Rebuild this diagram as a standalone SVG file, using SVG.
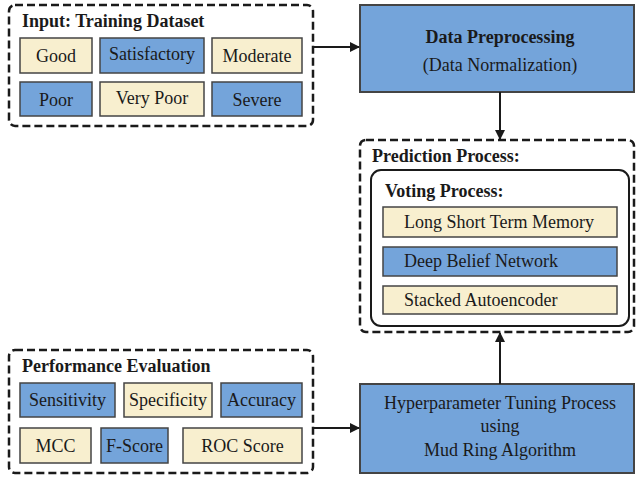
<svg xmlns="http://www.w3.org/2000/svg" width="637" height="478" viewBox="0 0 637 478" font-family="'Liberation Serif', 'Times New Roman', Times, serif">
<defs>
<style>
text{fill:#1a1a1a}
.t{font-size:18px;font-weight:bold}
.l{font-size:18px}
.c{text-anchor:middle}
.dash{fill:#fff;stroke:#1a1a1a;stroke-width:2.5;stroke-dasharray:8,4}
.b{fill:#74A4DA;stroke:#444;stroke-width:1.5}
.y{fill:#F8EFCF;stroke:#444;stroke-width:1.5}
.big{fill:#74A4DA;stroke:#444;stroke-width:2}
.conn{stroke:#1a1a1a;stroke-width:2;fill:none}
</style>
<marker id="ah" viewBox="0 0 10 10" refX="9" refY="5" markerWidth="5" markerHeight="5" orient="auto-start-reverse">
<path d="M0,0L10,5L0,10z" fill="#1a1a1a"/>
</marker>
</defs>
<g id="input">
<rect class="dash" x="9" y="5" width="304" height="121" rx="6"/>
<text class="t" x="22" y="27">Input: Training Dataset</text>
<rect class="y" x="20" y="38" width="72" height="35"/><text class="l c" x="56" y="62">Good</text>
<rect class="b" x="100" y="38" width="104" height="35"/><text class="l c" x="152" y="60">Satisfactory</text>
<rect class="y" x="212" y="38" width="90" height="35"/><text class="l c" x="257" y="62">Moderate</text>
<rect class="b" x="20" y="82" width="72" height="34"/><text class="l c" x="56" y="106">Poor</text>
<rect class="y" x="100" y="82" width="104" height="34"/><text class="l c" x="152" y="104">Very Poor</text>
<rect class="b" x="212" y="82" width="90" height="34"/><text class="l c" x="257" y="106">Severe</text>
</g>
<g id="preprocessing">
<rect class="big" x="360" y="5" width="274" height="87"/>
<text class="t c" x="500" y="43">Data Preprocessing</text>
<text class="l c" x="500" y="71">(Data Normalization)</text>
</g>
<g id="prediction">
<rect class="dash" x="360" y="140" width="274" height="192" rx="6"/>
<text class="t" x="372" y="162">Prediction Process:</text>
<rect x="371" y="170" width="258" height="156" rx="10" fill="#fff" stroke="#1a1a1a" stroke-width="2"/>
<text class="t" x="385" y="197">Voting Process:</text>
<rect class="y" x="383" y="207" width="234" height="30"/><text class="l" x="404" y="228">Long Short Term Memory</text>
<rect class="b" x="383" y="247" width="234" height="29"/><text class="l" x="404" y="267">Deep Belief Network</text>
<rect class="y" x="383" y="286" width="234" height="28"/><text class="l" x="404" y="306">Stacked Autoencoder</text>
</g>
<g id="performance">
<rect class="dash" x="9" y="350" width="304" height="123" rx="6"/>
<text class="t" x="22" y="372">Performance Evaluation</text>
<rect class="b" x="20" y="383" width="95" height="34"/><text class="l c" x="67.5" y="406">Sensitivity</text>
<rect class="y" x="124" y="383" width="88" height="34"/><text class="l c" x="168" y="406">Specificity</text>
<rect class="b" x="221" y="383" width="81" height="34"/><text class="l c" x="261.5" y="406">Accuracy</text>
<rect class="y" x="20" y="428" width="71" height="35"/><text class="l c" x="55.5" y="452">MCC</text>
<rect class="b" x="101" y="428" width="67" height="35"/><text class="l c" x="134.5" y="452">F-Score</text>
<rect class="y" x="183" y="428" width="119" height="35"/><text class="l c" x="242.5" y="452">ROC Score</text>
</g>
<g id="tuning">
<rect class="big" x="360" y="384" width="274" height="89"/>
<text class="l c" x="500" y="409">Hyperparameter Tuning Process</text>
<text class="l c" x="500" y="432">using</text>
<text class="l c" x="500" y="456">Mud Ring Algorithm</text>
</g>
<g id="connectors">
<path class="conn" d="M313,47H359" marker-end="url(#ah)"/>
<path class="conn" d="M500,92V139" marker-end="url(#ah)"/>
<path class="conn" d="M500,384V333" marker-end="url(#ah)"/>
<path class="conn" d="M313,428H359" marker-end="url(#ah)"/>
</g>
</svg>
